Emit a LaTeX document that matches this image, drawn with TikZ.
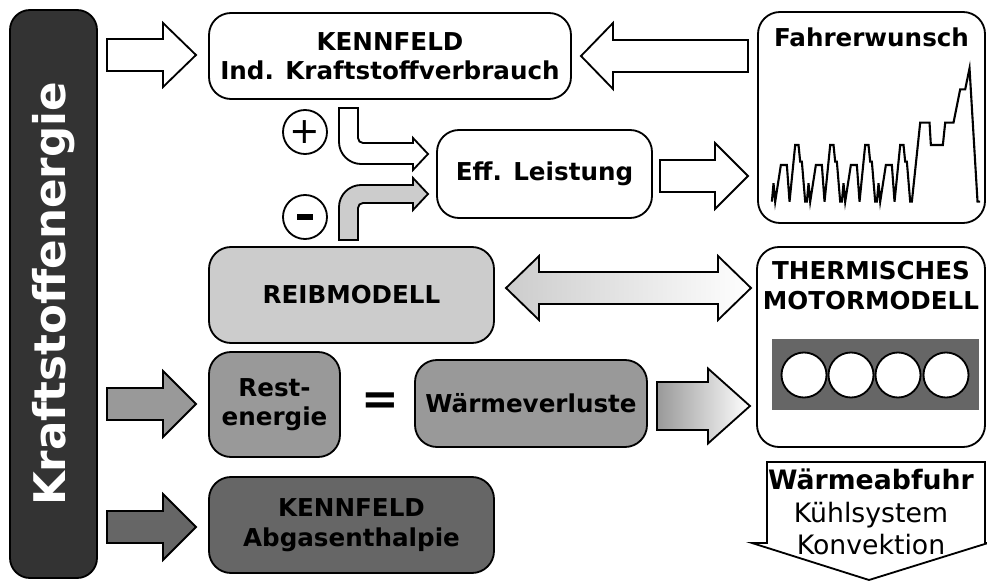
\documentclass[tikz,border=0pt]{standalone}
\usepackage{fontspec}
\setmainfont{DejaVu Sans}
\usetikzlibrary{positioning}

\definecolor{hellgrau}{gray}{0.8}
\definecolor{mittelgrau}{gray}{0.6}
\definecolor{dunkelgrau}{gray}{0.4}
\definecolor{balkengrau}{gray}{0.2}

\def\px{0.025cm}
\tikzset{
    box/.style={draw, rounded corners=0.55cm, line width=1.3pt, align=center, font=\bfseries\fontsize{17.5}{21}\selectfont},
    pfeil/.style={draw, line width=1.3pt, line join=miter},
}
% block arrow: [style] {x tail}{x tip}{y}{shaft half}{head half}{head length}
\newcommand{\blockpfeil}[7][]{%
    \draw[pfeil, #1] (#2,{#4-#5}) -- ({#3-(#7)},{#4-#5}) -- ({#3-(#7)},{#4-#6}) -- (#3,#4)
        -- ({#3-(#7)},{#4+#6}) -- ({#3-(#7)},{#4+#5}) -- (#2,{#4+#5}) -- cycle;}

\begin{document}
\begin{tikzpicture}[x=0.025cm, y=-0.025cm]
    \useasboundingbox (0,0) rectangle (987,583);

    % left bar
    \node(bar) [draw, fill=balkengrau, rounded corners=0.5cm, line width=1.3pt, minimum width=87*\px, minimum height=568*\px] at (53.5,294) {};
    \node(bartext) [rotate=90, text=white, font=\bfseries\fontsize{31}{36}\selectfont] at (bar.center) {Kraftstoffenergie};

    % boxes
    \node(kf) [box, minimum width=362*\px, minimum height=86*\px] at (390,56) {KENNFELD\\Ind. Kraftstoffverbrauch};
    \node(eff) [box, minimum width=215*\px, minimum height=88*\px] at (544.5,174) {Eff. Leistung};
    \node(reib) [box, fill=hellgrau, minimum width=285*\px, minimum height=96*\px] at (351.5,295) {REIBMODELL};
    \node(rest) [box, fill=mittelgrau, minimum width=131*\px, minimum height=105*\px] at (274.5,404.5) {Rest-\\energie};
    \node(gleich) [font=\bfseries\fontsize{32}{34}\selectfont] at (380,404) {=};
    \node(waerme) [box, fill=mittelgrau, minimum width=232*\px, minimum height=87*\px] at (531,403.5) {Wärmeverluste};
    \node(abgas) [box, fill=dunkelgrau, minimum width=285*\px, minimum height=96*\px] at (351.5,525) {KENNFELD\\Abgasenthalpie};

    \node(fw) [box, minimum width=227*\px, minimum height=211*\px] at (871.5,117.5) {};
    \node(fwtitel) [below=0.4cm of fw.north, inner sep=0, font=\bfseries\fontsize{17.5}{21}\selectfont] {Fahrerwunsch};

    \node(motor) [box, minimum width=228*\px, minimum height=200*\px] at (871,347) {};
    \node(motortitel) [below=0.36cm of motor.north, inner sep=0, align=center, font=\bfseries\fontsize{17.5}{21.5}\selectfont] {THERMISCHES\\MOTORMODELL};
    \fill[dunkelgrau] (772,339) rectangle (979,410);
    \foreach \cx in {804,851,898,946}
        \draw[line width=1.3pt, fill=white] (\cx,375) circle (22.5*\px);

    % driver demand trace
    \begin{scope}[xshift=18.5cm, x=0.008333cm, y=-0.008333cm]
        \draw[line width=1.5pt, line join=miter] (95,605)
            \foreach \s in {95,200,305,410} {
                -- ({\s+5},550) -- ({\s+10},605) -- ({\s+27},495) -- ({\s+45},495) -- ({\s+53},605)
                -- ({\s+70},435) -- ({\s+80},435) -- ({\s+85},485) -- ({\s+90},485) -- ({\s+100},605) -- ({\s+105},605)
            }
            -- (540,368) -- (568,368) -- (572,435) -- (608,435) -- (615,368) -- (640,368)
            -- (660,268) -- (675,268) -- (688,205) -- (712,605) -- (720,605);
    \end{scope}

    % plus / minus
    \node(plus) [circle, draw, line width=1.3pt, minimum size=44*\px, inner sep=0, font=\fontsize{26}{26}\selectfont] at (305,132) {+};
    \node(minus) [circle, draw, line width=1.3pt, minimum size=44*\px, inner sep=0] at (305,217) {};
    \fill ([xshift=-0.21cm, yshift=-0.07cm]minus.center) rectangle +(0.42cm,0.14cm);

    % bent arrows into Eff. Leistung
    \draw[pfeil, fill=white] (339,108) -- (358,108) -- (358,138) .. controls (358,140.8) and (360.2,143) .. (363,143)
        -- (413,143) -- (413,138) -- (428,154) -- (413,170) -- (413,164) -- (361,164)
        .. controls (349,164) and (339,154) .. (339,142) -- cycle;
    \draw[pfeil, fill=hellgrau] (339,240) -- (339,207) .. controls (339,195) and (349,185) .. (361,185)
        -- (413,185) -- (413,178) -- (428,194) -- (413,210) -- (413,203) -- (363,203)
        .. controls (360.2,203) and (358,205.2) .. (358,208) -- (358,240) -- cycle;

    % block arrows
    \blockpfeil[fill=white]{107}{196}{55}{16}{32}{33}
    \blockpfeil[fill=mittelgrau]{107}{196}{404}{16}{33}{33}
    \blockpfeil[fill=dunkelgrau]{107}{196}{527}{16}{33}{33}
    \blockpfeil[fill=white]{748}{581}{56}{16}{33}{-32}
    \blockpfeil[fill=white]{660}{748}{176}{16}{33}{33}
    \blockpfeil[left color=mittelgrau, right color=white]{657}{750}{406}{24}{37.5}{42}

    % double arrow
    \draw[pfeil, left color=hellgrau, right color=white] (506,288) -- (539,256) -- (539,272) -- (718,272) -- (718,256) -- (751,288)
        -- (718,320) -- (718,304) -- (539,304) -- (539,320) -- cycle;

    % heat removal
    \draw[pfeil, fill=white] (767,462) -- (985,462) -- (985,543) -- (988,543) -- (869,580) -- (752,543) -- (767,543) -- cycle;
    \node(abfuhr) [align=center, font=\fontsize{19}{23}\selectfont] at (871,512) {\textbf{Wärmeabfuhr}\\Kühlsystem\\Konvektion};
\end{tikzpicture}
\end{document}
